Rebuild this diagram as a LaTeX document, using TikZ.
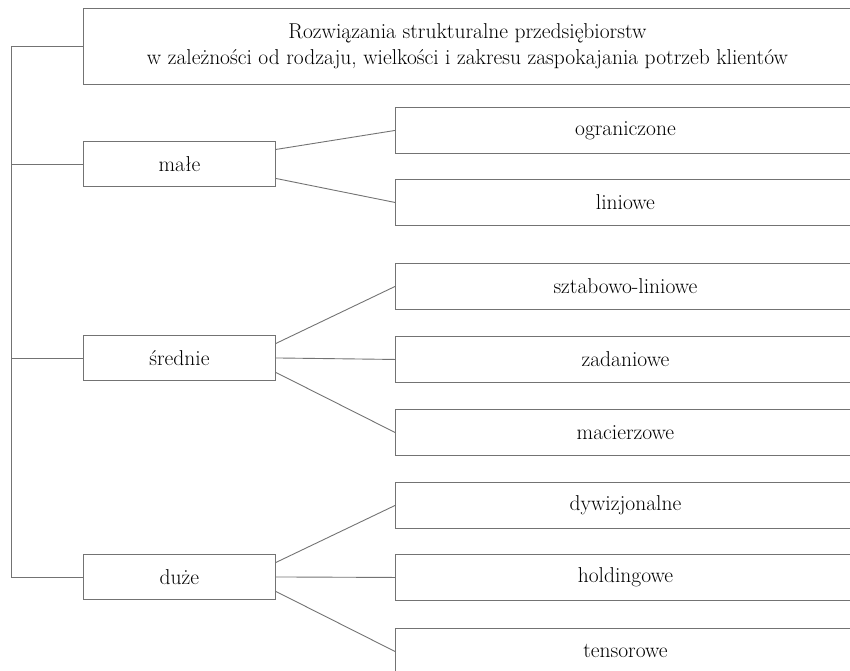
\documentclass[tikz,border=0pt]{standalone}
\usepackage{fontspec}
\setmainfont{Latin Modern Roman}
\usetikzlibrary{calc}
\begin{document}
\begin{tikzpicture}[x=1pt,y=-1pt,
  ln/.style={draw=black!55, line width=0.9pt},
  box/.style={ln, rectangle, inner sep=0pt, anchor=north west, align=center,
    font=\fontsize{21.5}{25.5}\selectfont, text=black},
  lbox/.style={box, minimum width=192pt, minimum height=45pt},
  rbox/.style={box, minimum width=460pt, minimum height=46pt}]
\clip (0,0) rectangle (850,670);
\node[box, minimum width=768pt, minimum height=76pt] (top) at (83,8)
  {Rozwiązania strukturalne przedsiębiorstw\\w zależności od rodzaju, wielkości i zakresu zaspokajania potrzeb klientów};
\node[lbox] (male) at (83,141) {małe};
\node[lbox] (srednie) at (83,335) {średnie};
\node[lbox] (duze) at (83,554) {duże};
\node[rbox] (r1) at (395,107) {ograniczone};
\node[rbox] (r2) at (395,179) {liniowe};
\node[rbox] (r3) at (395,263) {sztabowo-liniowe};
\node[rbox] (r4) at (395,336) {zadaniowe};
\node[rbox] (r5) at (395,409) {macierzowe};
\node[rbox] (r6) at (395,482) {dywizjonalne};
\node[rbox] (r7) at (395,554) {holdingowe};
\node[rbox] (r8) at (395,628) {tensorowe};
\coordinate (sp) at (11,0);
\draw[ln] (top.west) -- (sp |- top.west) -- (sp |- duze.west) -- (duze.west);
\draw[ln] (male.west) -- (sp |- male.west);
\draw[ln] (srednie.west) -- (sp |- srednie.west);
\draw[ln] ($(male.east)+(0,-14.5)$) -- (r1.west);
\draw[ln] ($(male.east)+(0,14.5)$) -- (r2.west);
\draw[ln] ($(srednie.east)+(0,-14.5)$) -- (r3.west);
\draw[ln] (srednie.east) -- (r4.west);
\draw[ln] ($(srednie.east)+(0,14.5)$) -- (r5.west);
\draw[ln] ($(duze.east)+(0,-14.5)$) -- (r6.west);
\draw[ln] (duze.east) -- (r7.west);
\draw[ln] ($(duze.east)+(0,14.5)$) -- (r8.west);
\end{tikzpicture}
\end{document}
